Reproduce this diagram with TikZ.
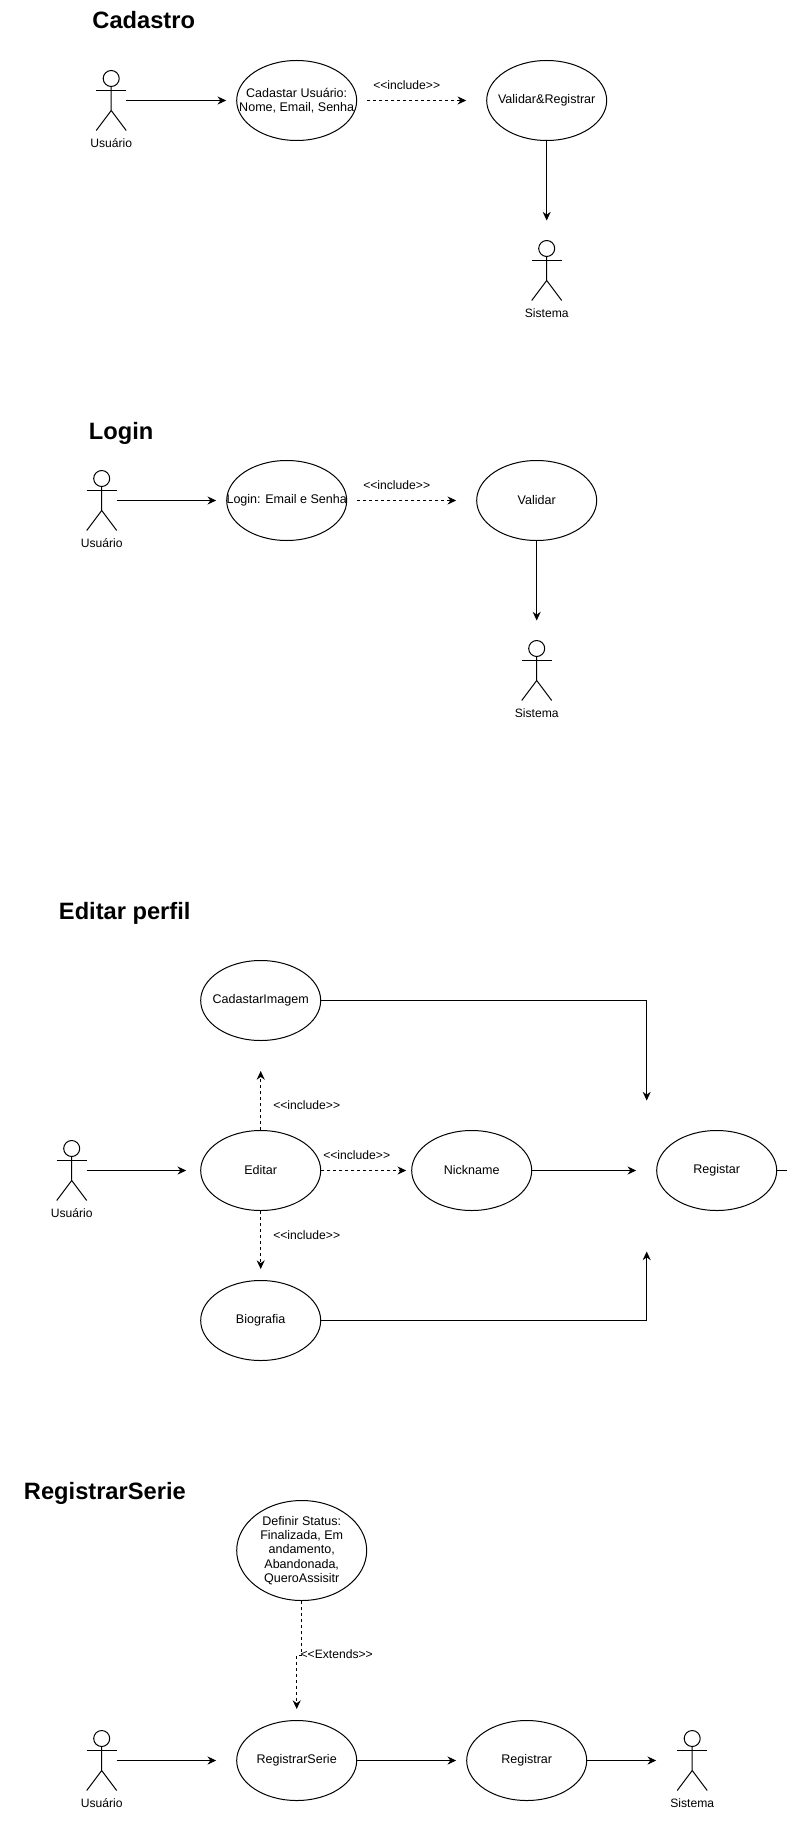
\documentclass[tikz,border=0pt]{standalone}
\usepackage{fontspec}
\setmainfont{Liberation Sans}
\usetikzlibrary{arrows.meta,shapes.geometric}

\tikzset{
  >={Stealth[length=6.5pt,width=6pt]},
  line/.style={line width=0.75pt},
  dash33/.style={line width=0.75pt,dash pattern=on 2.25pt off 2.25pt},
  lbl/.style={font=\fontsize{9.1}{10.8}\selectfont,inner sep=0pt},
  heading/.style={font=\fontsize{17.75}{20}\selectfont\bfseries,anchor=base west,inner sep=0pt},
  usecase/.style={ellipse,draw,line width=0.75pt,minimum width=90pt,minimum height=60pt,inner sep=-15pt,
    align=center,font=\fontsize{9.4}{10.8}\selectfont},
  actor/.style={minimum width=22.5pt,minimum height=45pt,inner sep=0pt,outer sep=0pt,
    label={[lbl,label distance=6pt]below:#1},
    append after command={\pgfextra{
      \draw[line] (\tikzlastnode.north) ++(0,8) circle (8);
      \draw[line] (\tikzlastnode.north) ++(0,16) -- ++(0,24) -- ++(-15,20) ++(15,-20) -- ++(15,20);
      \draw[line] (\tikzlastnode.north) ++(-15,20) -- ++(30,0);
    }}},
}

\begin{document}
\begin{tikzpicture}[x=0.75pt,y=-0.75pt]
  \useasboundingbox (-0.7,-0.5) rectangle (786.3,1832.5);

  % Cadastro
  \node[heading] (t1) at (91.5,28.5) {Cadastro};
  \node[actor=Usuário] (u1) at (110.5,100) {};
  \node[usecase] (cad) at (296,100) {Cadastar Usuário:\\Nome, Email, Senha};
  \node[usecase] (valreg) at (546,100) {Validar\&Registrar};
  \node[actor=Sistema] (s1) at (546,270) {};
  \node[lbl] (i1) at (406,85) {<{}<include>{}>};
  \draw[line,->,shorten >=7.5pt] (u1) to (cad);
  \draw[dash33,->,shorten <=7.5pt,shorten >=15pt] (cad) to (valreg);
  \draw[line,->,shorten >=15pt] (valreg) to (s1);

  % Login
  \node[heading] (t2) at (88,438.5) {Login};
  \node[actor=Usuário] (u2) at (101,500) {};
  \node[usecase] (log) at (286,500) {Login: Email e Senha};
  \node[usecase] (val) at (536,500) {Validar};
  \node[actor=Sistema] (s2) at (536,670) {};
  \node[lbl] (i2) at (396,485) {<{}<include>{}>};
  \draw[line,->,shorten >=7.5pt] (u2) to (log);
  \draw[dash33,->,shorten <=7.5pt,shorten >=15pt] (log) to (val);
  \draw[line,->,shorten >=15pt] (val) to (s2);

  % Editar perfil
  \node[heading] (t3) at (58,918.5) {Editar perfil};
  \node[actor=Usuário] (u3) at (71,1170) {};
  \node[usecase] (edi) at (260,1170) {Editar};
  \node[usecase] (img) at (260,1000) {CadastarImagem};
  \node[usecase] (nick) at (471,1170) {Nickname};
  \node[usecase] (bio) at (260,1320) {Biografia};
  \node[usecase] (reg) at (716,1170) {Registar};
  \node[lbl] (i3) at (306,1105) {<{}<include>{}>};
  \node[lbl] (i4) at (356,1155) {<{}<include>{}>};
  \node[lbl] (i5) at (306,1235) {<{}<include>{}>};
  \coordinate (e1) at (646,1100);
  \coordinate (e2) at (646,1251);
  \coordinate (e3) at (787,1170);
  \draw[line,->,shorten >=10.5pt] (u3) to (edi);
  \draw[dash33,->,shorten >=22.5pt] (edi) to (img);
  \draw[dash33,->,shorten >=3.75pt] (edi) to (nick);
  \draw[dash33,->,shorten >=8.25pt] (edi) to (bio);
  \draw[line,->] (img.east) -| (e1);
  \draw[line,->,shorten >=15pt] (nick) to (reg);
  \draw[line,->] (bio.east) -| (e2);
  \draw[line] (reg) to (e3);

  % RegistrarSerie
  \node[heading] (t4) at (23,1498.5) {RegistrarSerie};
  \node[usecase,minimum width=97.5pt,minimum height=75pt] (sta) at (301,1550)
    {Definir Status:\\Finalizada, Em\\andamento,\\Abandonada,\\QueroAssisitr};
  \node[actor=Usuário] (u4) at (101,1760) {};
  \node[usecase] (ser) at (296,1760) {RegistrarSerie};
  \node[usecase] (rgs) at (526,1760) {Registrar};
  \node[actor=Sistema] (s4) at (691.5,1760) {};
  \node[lbl] (i6) at (336,1654) {<{}<Extends>{}>};
  \coordinate (k1) at (296,1655);
  \draw[dash33,->,shorten >=8.25pt] (sta.south) |- (k1) -- (ser.north);
  \draw[line,->,shorten >=15pt] (u4) to (ser);
  \draw[line,->,shorten >=7.5pt] (ser) to (rgs);
  \draw[line,->,shorten >=15.75pt] (rgs) to (s4);
\end{tikzpicture}
\end{document}
